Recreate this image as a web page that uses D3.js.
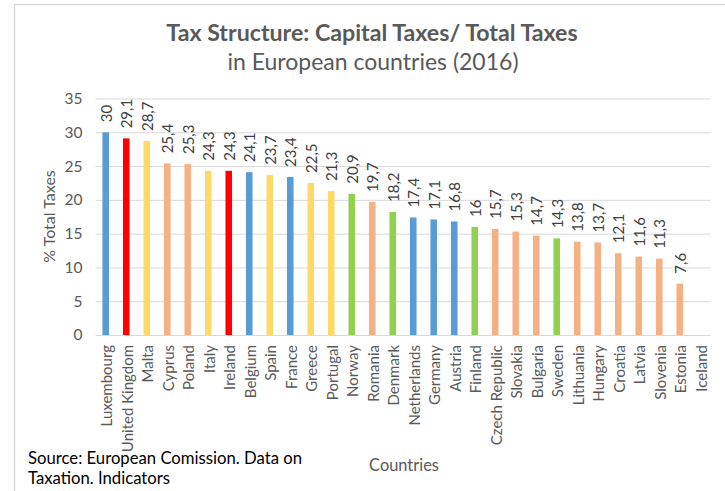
<!DOCTYPE html>
<html>
<head>
<meta charset="utf-8">
<script src="https://cdn.jsdelivr.net/npm/d3@7"></script>
<style>
  html, body { margin: 0; padding: 0; background: #fff; }
  svg { display: block; font-family: Lato, "Open Sans", sans-serif; }
</style>
</head>
<body>
<svg id="chart" width="725" height="491"></svg>
<script>
// Capital taxes as a share of total taxes, 2016
const countries = ["Luxembourg", "United Kingdom", "Malta", "Cyprus", "Poland", "Italy", "Ireland",
  "Belgium", "Spain", "France", "Greece", "Portugal", "Norway", "Romania", "Denmark", "Netherlands",
  "Germany", "Austria", "Finland", "Czech Republic", "Slovakia", "Bulgaria", "Sweden", "Lithuania",
  "Hungary", "Croatia", "Latvia", "Slovenia", "Estonia", "Iceland"];
const shares = [30, 29.1, 28.7, 25.4, 25.3, 24.3, 24.3, 24.1, 23.7, 23.4, 22.5, 21.3, 20.9, 19.7,
  18.2, 17.4, 17.1, 16.8, 16, 15.7, 15.3, 14.7, 14.3, 13.8, 13.7, 12.1, 11.6, 11.3, 7.6, null];
const groups = ["continental", "anglo", "mediterranean", "eastern", "eastern", "mediterranean", "anglo",
  "continental", "mediterranean", "continental", "mediterranean", "mediterranean", "nordic", "eastern",
  "nordic", "continental", "continental", "continental", "nordic", "eastern", "eastern", "eastern",
  "nordic", "eastern", "eastern", "eastern", "eastern", "eastern", "eastern", "nordic"];
const yTicks = [0, 5, 10, 15, 20, 25, 30, 35];

const groupColors = {
  continental: "#5B9BD5",
  anglo: "#FF0000",
  mediterranean: "#FFD966",
  eastern: "#F4B183",
  nordic: "#92D050"
};

const rows = countries.map((c, i) => ({ country: c, value: shares[i], group: groups[i] }));

const svg = d3.select("#chart");
const plot = { left: 95.5, right: 710.5, top: 98.5, bottom: 335 };
const textGrey = "#595959";

svg.append("rect").attr("width", 725).attr("height", 491).attr("fill", "#fff");

// outer chart-area border
svg.append("rect")
  .attr("x", 14.5).attr("y", 4.5)
  .attr("width", 900).attr("height", 700)
  .attr("fill", "none").attr("stroke", "#D9D9D9").attr("stroke-width", 1.5);

const x = d3.scaleBand()
  .domain(countries)
  .range([plot.left, plot.right])
  .paddingInner(0.68)
  .paddingOuter(0.34);

const y = d3.scaleLinear().domain([0, 35]).range([plot.bottom, plot.top]);

// gridlines + y tick labels
const yAxis = svg.append("g")
  .attr("transform", `translate(${plot.left},0)`)
  .call(d3.axisLeft(y).tickValues(yTicks).tickSize(-(plot.right - plot.left)).tickPadding(13));
yAxis.select(".domain").remove();
yAxis.selectAll(".tick line").attr("stroke", "#D9D9D9").attr("stroke-width", 1);
yAxis.selectAll(".tick text")
  .attr("fill", textGrey)
  .style("font-size", "15.5px")
  .style("font-family", "Lato, sans-serif");

// bars
svg.append("g").selectAll("rect")
  .data(rows.filter(d => d.value != null))
  .join("rect")
  .attr("x", d => x(d.country))
  .attr("width", x.bandwidth())
  .attr("y", d => y(d.value))
  .attr("height", d => y(0) - y(d.value))
  .attr("fill", d => groupColors[d.group]);

// value labels, rotated, above each bar
const fmt = v => String(v).replace(".", ",");
svg.append("g").selectAll("text")
  .data(rows.filter(d => d.value != null))
  .join("text")
  .attr("transform", d => `translate(${x(d.country) + x.bandwidth() / 2 + 0.5},${y(d.value) - 10}) rotate(-90)`)
  .attr("dy", "0.36em")
  .attr("text-anchor", "start")
  .attr("fill", "#404040")
  .style("font-size", "15px")
  .text(d => fmt(d.value));

// category labels
svg.append("g").selectAll("text")
  .data(countries)
  .join("text")
  .attr("transform", d => `translate(${x(d) + x.bandwidth() / 2 + 1},${plot.bottom + 10}) rotate(-90)`)
  .attr("dy", "0.36em")
  .attr("text-anchor", "end")
  .attr("fill", textGrey)
  .style("font-size", "15px")
  .text(d => d);

// axis titles
svg.append("text")
  .attr("transform", "translate(49,216.5) rotate(-90)")
  .attr("dy", "0.36em")
  .attr("text-anchor", "middle")
  .attr("fill", textGrey)
  .style("font-size", "16px")
  .text("% Total Taxes");

svg.append("text")
  .attr("x", 404).attr("y", 471)
  .attr("text-anchor", "middle")
  .attr("fill", textGrey)
  .style("font-size", "16.4px")
  .text("Countries");

// chart titles
svg.append("text")
  .attr("x", 372).attr("y", 41)
  .attr("text-anchor", "middle")
  .attr("fill", textGrey)
  .style("font-size", "23.2px")
  .style("font-weight", "bold")
  .text("Tax Structure: Capital Taxes/ Total Taxes");

svg.append("text")
  .attr("x", 373).attr("y", 70)
  .attr("text-anchor", "middle")
  .attr("fill", textGrey)
  .style("font-size", "23px")
  .text("in European countries (2016)");

// source note
const source = svg.append("text")
  .attr("x", 28).attr("y", 464)
  .attr("fill", "#000")
  .style("font-size", "16.7px");
source.append("tspan").attr("x", 28).text("Source: European Comission. Data on");
source.append("tspan").attr("x", 28).attr("dy", 20).text("Taxation. Indicators");
</script>
</body>
</html>
